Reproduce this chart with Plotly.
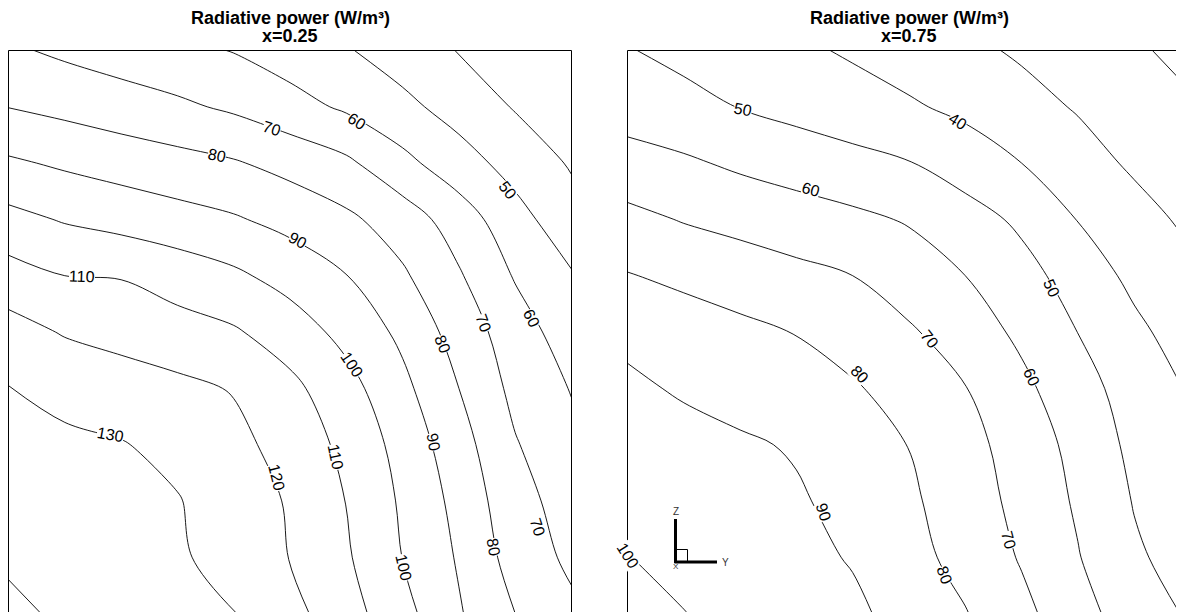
import plotly.graph_objects as go

# page is shown with the browser's default 8px body margin, so the figure is
# drawn 8px smaller and every screen position below is shifted by that offset
OFF = 8
W, H = 1184 - OFF, 612 - OFF

# grid positions (normalised panel coordinates: horizontal = Y, vertical = Z)
grid_y = [0.0, 0.1, 0.2, 0.3, 0.4, 0.5, 0.6, 0.7, 0.8, 0.9, 1.0]
grid_z_top_down = [1.0, 0.9, 0.8, 0.7, 0.6, 0.5, 0.4, 0.3, 0.2, 0.1, 0.0]

# Radiative power (W/m^3), rows listed from top to bottom
power_x025 = [
    [71.5, 68.2, 65.4, 62.6, 59.6, 55.2, 50.8, 45.3, 39.6, 36.0, 33.0],
    [79.8, 77.3, 74.5, 71.8, 68.4, 63.6, 58.5, 52.5, 46.1, 39.3, 32.6],
    [91.5, 88.5, 85.9, 83.4, 80.9, 76.7, 71.9, 62.8, 54.1, 46.4, 39.0],
    [103.0, 99.2, 96.4, 93.7, 91.0, 86.9, 82.0, 75.1, 65.2, 53.5, 44.0],
    [114.0, 110.0, 109.5, 105.8, 101.8, 96.3, 90.2, 81.4, 71.0, 59.2, 50.8],
    [124.0, 119.2, 116.5, 113.8, 111.1, 105.1, 97.0, 87.8, 75.8, 64.7, 55.0],
    [130.3, 127.7, 125.0, 122.4, 119.4, 112.5, 103.6, 92.5, 80.0, 67.4, 59.5],
    [133.0, 131.5, 130.5, 127.4, 122.7, 116.3, 107.5, 96.5, 84.0, 70.7, 62.5],
    [136.0, 134.5, 133.0, 130.5, 125.2, 119.1, 109.8, 98.6, 87.0, 73.4, 66.0],
    [139.0, 137.0, 134.5, 131.3, 126.3, 119.7, 111.2, 99.8, 89.0, 75.9, 68.0],
    [141.5, 138.9, 136.0, 133.2, 130.4, 123.1, 114.0, 103.3, 90.9, 80.0, 72.0],
]

power_x075 = [
    [50.5, 47.6, 44.7, 41.8, 38.8, 35.4, 32.2, 28.7, 25.0, 21.2, 17.5],
    [56.0, 52.8, 49.7, 46.9, 44.1, 41.2, 37.7, 33.4, 29.2, 25.2, 21.0],
    [63.5, 61.5, 58.3, 55.7, 53.1, 50.4, 45.4, 40.0, 34.0, 28.5, 23.0],
    [72.8, 69.4, 67.0, 64.5, 62.1, 59.2, 54.0, 48.2, 39.7, 33.6, 28.0],
    [80.5, 77.9, 75.2, 72.6, 70.0, 64.9, 60.0, 53.3, 45.9, 37.5, 32.0],
    [88.0, 84.8, 82.3, 79.7, 75.5, 71.2, 65.1, 58.0, 49.9, 42.3, 35.0],
    [91.6, 89.0, 86.3, 83.6, 81.0, 76.1, 70.3, 62.3, 53.8, 45.8, 39.0],
    [94.5, 92.9, 91.3, 89.1, 84.5, 79.8, 73.3, 65.6, 57.0, 47.6, 42.0],
    [97.4, 95.3, 93.2, 91.1, 87.0, 81.6, 74.9, 67.2, 58.7, 49.5, 44.0],
    [100.2, 97.6, 94.9, 92.3, 89.4, 83.3, 76.7, 69.2, 60.5, 51.4, 46.0],
    [103.5, 100.2, 97.3, 94.4, 91.6, 87.0, 80.5, 72.4, 64.1, 54.3, 49.0],
]

levels_x025 = (40, 140, 10)
levels_x075 = (20, 100, 10)
title_main = "Radiative power (W/m³)"
title_sub = ["x=0.25", "x=0.75"]

# contour-label placement (level, screen x, screen y, angle along the line)
labels_x025 = [
    (70, 272, 128, 18), (60, 357, 121, 32), (50, 508, 190, 52), (80, 217, 155, 12),
    (90, 298, 240, 28), (110, 82, 276, 2), (70, 484, 323, 70), (60, 532, 318, 63),
    (80, 443, 344, 68), (100, 352, 364, 56), (130, 110, 434, 10), (120, 277, 477, 76),
    (110, 336, 457, 78), (90, 434, 442, 80), (70, 538, 527, 72), (80, 494, 547, 80),
    (100, 404, 567, 77),
]
labels_x075 = [
    (50, 743, 109, 11), (40, 958, 121, 32), (60, 811, 189, 15), (50, 1052, 288, 66),
    (70, 930, 339, 52), (80, 860, 374, 46), (60, 1032, 377, 66), (90, 824, 512, 72),
    (70, 1009, 540, 75), (80, 945, 575, 70), (100, 628, 555, 58),
]

FONT = "Liberation Sans, Arial, Helvetica, sans-serif"


def contour(z_rows, lv, xa, ya):
    return go.Contour(
        x=grid_y, y=grid_z_top_down[::-1], z=z_rows[::-1],
        xaxis=xa, yaxis=ya,
        contours=dict(start=lv[0], end=lv[1], size=lv[2], coloring="none",
                      showlabels=False),
        line=dict(color="black", width=0.9, smoothing=1.0),
        showscale=False, hoverinfo="skip",
    )


fig = go.Figure()
fig.add_trace(contour(power_x025, levels_x025, "x", "y"))
fig.add_trace(contour(power_x075, levels_x075, "x2", "y2"))

# screen pixel geometry of the panels
side = 563.0
top_s = 50.5
left1_s, left2_s = 8.5, 627.5


def fx(xs):
    return (xs - OFF) / W


def fy(ys):
    return 1 - (ys - OFF) / H


ydom = [0, fy(top_s)]
yrange = [(top_s + side - 612) / side, 1]
ax = dict(visible=False, showgrid=False, zeroline=False, fixedrange=True)
fig.update_layout(
    width=W, height=H, margin=dict(l=0, r=0, t=0, b=0, pad=0),
    paper_bgcolor="white", plot_bgcolor="white", showlegend=False,
    xaxis=dict(ax, domain=[fx(left1_s), fx(left1_s + side)], range=[0, 1]),
    yaxis=dict(ax, domain=ydom, range=yrange),
    xaxis2=dict(ax, domain=[fx(left2_s), 1], range=[0, (1184 - left2_s) / side]),
    yaxis2=dict(ax, domain=ydom, range=yrange),
)

annotations = []
# contour labels, placed in each panel's own axis coordinates
for lab, left_s, xr, yr in [(labels_x025, left1_s, "x", "y"),
                            (labels_x075, left2_s, "x2", "y2")]:
    for lv, sx, sy, ang in lab:
        annotations.append(dict(
            text=str(lv), xref=xr, yref=yr,
            x=(sx - left_s) / side, y=(top_s + side - sy) / side,
            textangle=ang, showarrow=False, xanchor="center", yanchor="middle",
            bgcolor="white", borderpad=0, borderwidth=0,
            font=dict(family=FONT, size=16, color="black")))

# frame lines (top/left/right of panel 1, top/left of panel 2)
frame = dict(color="black", width=1)
shapes = []
for xr, yr, sides in [("x domain", "y domain", ["top", "left", "right"]),
                      ("x2 domain", "y2 domain", ["top", "left"])]:
    for s in sides:
        c = {"top": (0, 1, 1, 1), "left": (0, 0, 0, 1), "right": (1, 1, 0, 1)}[s]
        shapes.append(dict(type="line", xref=xr, yref=yr, x0=c[0], x1=c[1],
                           y0=c[2], y1=c[3], line=frame, layer="below"))

# axis triad in the second panel (screen pixels)
tx, ty = 675.5, 562
shapes.append(dict(type="line", xref="paper", yref="paper", x0=fx(tx), x1=fx(tx),
                   y0=fy(ty + 1), y1=fy(519), line=dict(color="black", width=3)))
shapes.append(dict(type="line", xref="paper", yref="paper", x0=fx(tx - 1), x1=fx(717),
                   y0=fy(ty), y1=fy(ty), line=dict(color="black", width=3)))
shapes.append(dict(type="rect", xref="paper", yref="paper", x0=fx(tx), x1=fx(687.5),
                   y0=fy(ty), y1=fy(549.5), line=dict(color="black", width=1)))
fig.update_layout(shapes=shapes)

centers = [left1_s + side / 2, left2_s + side / 2]
for i in range(2):
    annotations.append(dict(text="<b>" + title_main + "</b>", xref="paper", x=fx(centers[i]),
                            yref="paper", y=fy(30), xanchor="center", yanchor="bottom",
                            showarrow=False, font=dict(family=FONT, size=18, color="black")))
    annotations.append(dict(text="<b>" + title_sub[i] + "</b>", xref="paper", x=fx(centers[i]),
                            yref="paper", y=fy(48), xanchor="center", yanchor="bottom",
                            showarrow=False, font=dict(family=FONT, size=18, color="black")))
for txt, x, y, s in [("Z", 676, 511, 10), ("Y", 725, 562, 10), ("X", 676, 566, 8)]:
    annotations.append(dict(text=txt, xref="paper", yref="paper", x=fx(x), y=fy(y),
                            xanchor="center", yanchor="middle", showarrow=False,
                            font=dict(family=FONT, size=s, color="#333")))
fig.update_layout(annotations=annotations)

fig.write_html("out.html")
